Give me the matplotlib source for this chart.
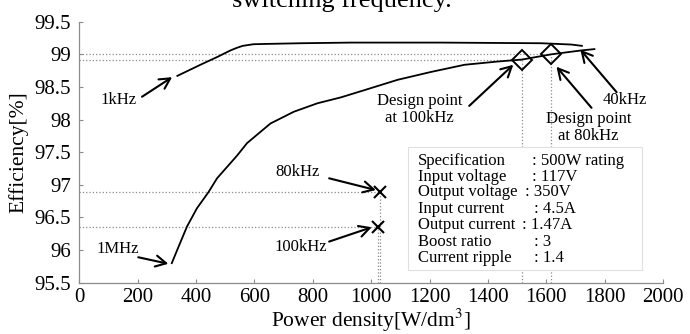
import matplotlib
matplotlib.use("Agg")
from matplotlib import pyplot as plt
from matplotlib.patches import Rectangle
import matplotlib.ticker as ticker

# 1 kHz -> 40 kHz branch (upper)
upper_x = [336, 415, 473, 518, 540, 560, 597, 645, 758, 931, 1239, 1583, 1686, 1722]
upper_y = [98.67, 98.84, 98.96, 99.06, 99.10, 99.13, 99.155, 99.16, 99.17, 99.18, 99.18, 99.17, 99.15, 99.13]

# 1 MHz -> 40 kHz branch (lower)
lower_x = [317, 340, 369, 403, 443, 472, 541, 575, 655, 735, 816, 896, 976, 1091, 1205, 1320, 1434,
           1517, 1617, 1720, 1765]
lower_y = [95.80, 96.05, 96.36, 96.64, 96.89, 97.10, 97.45, 97.64, 97.94, 98.12, 98.25, 98.34, 98.45,
           98.61, 98.73, 98.84, 98.89, 98.92, 99.00, 99.06, 99.08]

design_x = [1517, 1617]
design_y = [98.92, 99.00]

cross_x = [1032, 1025]
cross_y = [96.89, 96.35]

spec_labels = ["Specification", "Input voltage", "Output voltage", "Input current",
               "Output current", "Boost ratio", "Current ripple"]
spec_values = [": 500W rating", ": 117V", ": 350V", ": 4.5A", ": 1.47A", ": 3", ": 1.4"]
spec_value_pos = [0.775, 0.776, 0.764, 0.779, 0.759, 0.7795, 0.779]

# text, text position, arrow tail, arrow tip
notes = [
    ("1kHz", (133, 98.30), (215, 98.35), (318, 98.65)),
    ("1MHz", (133, 96.01), (202, 95.89), (305, 95.79)),
    ("80kHz", (747, 97.20), (856, 97.10), (1016, 96.92)),
    ("100kHz", (758, 96.05), (856, 96.13), (1002, 96.35)),
    ("Design point\nat 100kHz", (1165, 98.15), (1336, 98.21), (1487, 98.84)),
    ("Design point\nat 80kHz", (1745, 97.88), (1755, 98.18), (1635, 98.81)),
    ("40kHz", (1869, 98.30), (1841, 98.42), (1717, 99.07)),
]

plt.rcParams["font.family"] = ["Liberation Serif", "DejaVu Serif"]
plt.rcParams["mathtext.fontset"] = "stix"

fig = plt.figure(figsize=(6.9, 3.34), dpi=100)
ax = fig.add_axes([0.1149, 0.1536, 0.846, 0.7814])

gray = "#8c8c8c"
for px, py in zip(design_x + cross_x, design_y + cross_y):
    ax.plot([0, px], [py, py], ls=":", color=gray, lw=0.9, zorder=1)
    ax.plot([px, px], [95.5, py], ls=":", color=gray, lw=0.9, zorder=1)

ax.plot(upper_x, upper_y, color="black", lw=1.3, zorder=3)
ax.plot(lower_x, lower_y, color="black", lw=1.3, zorder=3)
ax.plot(design_x, design_y, ls="none", marker="D", ms=10.5, mfc="none", mec="black", mew=1.4, zorder=4)
ax.plot(cross_x, cross_y, ls="none", marker="x", ms=9, mec="black", mew=1.5, zorder=4)

for txt, tpos, tail, tip in notes:
    ax.text(tpos[0], tpos[1], txt, fontsize=12, ha="center", va="center", linespacing=1.05)
    ax.annotate("", xy=tip, xytext=tail,
                arrowprops=dict(arrowstyle="->,head_length=0.75,head_width=0.4", lw=1.5,
                                color="black", shrinkA=0, shrinkB=0))

box = Rectangle((0.563, 0.049), 0.401, 0.471, transform=ax.transAxes, facecolor="white",
                edgecolor="#e0e0e0", lw=0.8, zorder=5)
ax.add_patch(box)
rows_y = [0.466, 0.406, 0.346, 0.282, 0.221, 0.157, 0.094]
for lab, val, vx, ry in zip(spec_labels, spec_values, spec_value_pos, rows_y):
    ax.text(0.580, ry, lab, transform=ax.transAxes, fontsize=12, va="center", zorder=6)
    ax.text(vx, ry, val, transform=ax.transAxes, fontsize=12, va="center", zorder=6)

ax.set_xlim(0, 2000)
ax.set_ylim(95.5, 99.5)
ax.set_xticks(range(0, 2001, 200))
ax.set_yticks([95.5, 96, 96.5, 97, 97.5, 98, 98.5, 99, 99.5])
ax.yaxis.set_major_formatter(ticker.FormatStrFormatter("%g"))
ax.tick_params(direction="in", length=3, width=0.8, color=gray, labelsize=15, pad=4)
ax.tick_params(axis="y", pad=6)
for s in ["top", "right"]:
    ax.spines[s].set_visible(False)
for s in ["left", "bottom"]:
    ax.spines[s].set_color(gray)
    ax.spines[s].set_linewidth(0.9)

ax.set_xlabel("Power density[W/dm$^3$]", fontsize=15.5, labelpad=0)
ax.set_ylabel("Efficiency[%]", fontsize=15.5, labelpad=4)

fig.text(0.495, 0.979, "switching frequency.", fontsize=19, ha="center", va="baseline")

fig.savefig("out.png", dpi=100)
